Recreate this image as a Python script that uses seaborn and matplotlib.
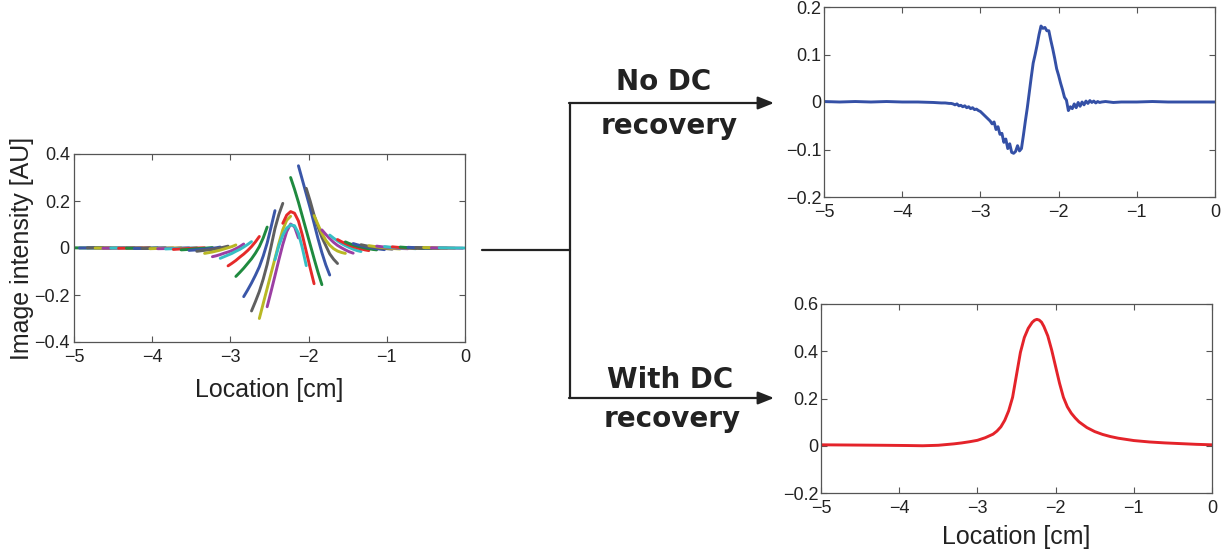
import numpy as np
import seaborn as sns
import matplotlib
matplotlib.use("Agg")
import matplotlib.pyplot as plt
from matplotlib.lines import Line2D
from matplotlib.patches import FancyArrowPatch
from matplotlib.ticker import FuncFormatter

# ---------------------------------------------------------------- data
X_TICKS = [-5, -4, -3, -2, -1, 0]
LEFT_Y_TICKS = [-0.4, -0.2, 0.0, 0.2, 0.4]
TOP_Y_TICKS = [-0.2, -0.1, 0.0, 0.1, 0.2]
BOTTOM_Y_TICKS = [-0.2, 0.0, 0.2, 0.4, 0.6]

# Windowed reconstructions: each window is 0.4 cm long, one window every 0.1 cm
WINDOW_STARTS = np.round(np.arange(48) * 0.1 - 5.03, 2)
WINDOW_LENGTH = 0.4
WINDOW_VALUES = [
    [0.001, 0.000, 0.001],
    [0.000, 0.001, 0.000],
    [0.001, 0.000, 0.000],
    [0.000, 0.000, 0.001],
    [-0.001, 0.000, 0.001],
    [0.000, 0.001, 0.000],
    [-0.001, 0.000, 0.001],
    [-0.001, -0.001, 0.000],
    [-0.002, -0.001, 0.001],
    [-0.002, -0.001, 0.000],
    [-0.003, -0.001, 0.001],
    [-0.003, -0.002, 0.001],
    [-0.004, -0.003, -0.001, 0.000, 0.001],
    [-0.006, -0.004, -0.002, 0.000, 0.001],
    [-0.008, -0.006, -0.003, -0.001, 0.002],
    [-0.010, -0.009, -0.008, -0.006, -0.005, -0.003, -0.001, 0.001, 0.004],
    [-0.014, -0.012, -0.010, -0.008, -0.006, -0.003, 0.000, 0.004, 0.008],
    [-0.023, -0.020, -0.017, -0.013, -0.009, -0.004, 0.001, 0.006, 0.013],
    [-0.037, -0.033, -0.028, -0.022, -0.017, -0.011, -0.003, 0.006, 0.017],
    [-0.044, -0.037, -0.030, -0.023, -0.014, -0.006, 0.004, 0.015, 0.027],
    [-0.076, -0.065, -0.053, -0.039, -0.026, -0.011, 0.006, 0.026, 0.049],
    [-0.121, -0.104, -0.086, -0.066, -0.046, -0.022, 0.006, 0.043, 0.089],
    [-0.207, -0.179, -0.149, -0.116, -0.080, -0.034, 0.021, 0.089, 0.159],
    [-0.268, -0.228, -0.185, -0.132, -0.070, 0.006, 0.083, 0.143, 0.190],
    [-0.300, -0.236, -0.172, -0.108, -0.045, 0.020, 0.078, 0.118, 0.135],
    [-0.250, -0.185, -0.118, -0.050, 0.015, 0.070, 0.102, 0.090, 0.043],
    [-0.050, 0.010, 0.055, 0.085, 0.098, 0.095, 0.063, 0.000, -0.075],
    [0.105, 0.140, 0.155, 0.148, 0.115, 0.055, -0.015, -0.085, -0.152],
    [0.300, 0.250, 0.195, 0.135, 0.075, 0.015, -0.045, -0.103, -0.156],
    [0.350, 0.290, 0.230, 0.170, 0.105, 0.040, -0.020, -0.072, -0.115],
    [0.254, 0.200, 0.140, 0.090, 0.045, 0.010, -0.025, -0.048, -0.066],
    [0.138, 0.100, 0.062, 0.033, 0.012, -0.003, -0.013, -0.019, -0.023],
    [0.077, 0.058, 0.040, 0.024, 0.011, 0.001, -0.008, -0.016, -0.022],
    [0.055, 0.042, 0.030, 0.019, 0.010, 0.002, -0.005, -0.011, -0.015],
    [0.036, 0.027, 0.019, 0.012, 0.006, 0.001, -0.004, -0.008, -0.011],
    [0.026, 0.019, 0.013, 0.008, 0.004, 0.000, -0.003, -0.006, -0.008],
    [0.019, 0.014, 0.010, 0.006, 0.003, 0.000, -0.003, -0.005, -0.007],
    [0.014, 0.007, 0.002, -0.002, -0.005],
    [0.010, 0.005, 0.001, -0.002, -0.004],
    [0.008, 0.004, 0.001, -0.002, -0.003],
    [0.006, 0.003, 0.000, -0.001, -0.003],
    [0.005, 0.002, 0.000, -0.001, -0.002],
    [0.004, 0.001, -0.001, -0.002],
    [0.003, 0.001, -0.001, -0.002],
    [0.002, 0.001, -0.001, -0.001],
    [0.002, 0.000, -0.001],
    [0.001, 0.000, -0.001],
    [0.001, 0.000, 0.000],
]

# Profile without DC recovery (noisy bipolar trace)
NODC_X_LEFT = [-5.0, -4.8, -4.6, -4.4, -4.2, -4.0, -3.8, -3.6, -3.5, -3.45, -3.4, -3.375]
NODC_Y_LEFT = [0.001, 0.000, 0.001, 0.000, 0.001, 0.000, 0.000, -0.001, -0.002, -0.002, -0.003, -0.003]
NODC_X_MID = np.round(np.linspace(-3.35, -1.45, 77), 3)
NODC_Y_MID = [
    -0.004, -0.006, -0.004, -0.008, -0.007, -0.010, -0.008, -0.012, -0.010, -0.014,
    -0.012, -0.016, -0.015, -0.018, -0.020, -0.024, -0.028, -0.032, -0.036, -0.040,
    -0.046, -0.042, -0.058, -0.052, -0.068, -0.066, -0.085, -0.078, -0.098, -0.088,
    -0.106, -0.108, -0.104, -0.092, -0.103, -0.098, -0.070, -0.040, -0.012, 0.020,
    0.052, 0.082, 0.100, 0.120, 0.142, 0.160, 0.155, 0.157, 0.150, 0.150,
    0.130, 0.112, 0.092, 0.070, 0.056, 0.040, 0.026, 0.010, 0.004, -0.018,
    -0.010, -0.014, -0.004, -0.012, -0.001, -0.009, 0.000, -0.006, 0.002, -0.003,
    0.003, -0.001, 0.002, -0.002, 0.001, -0.001, 0.000,
]
NODC_X_RIGHT = [-1.4, -1.3, -1.2, -1.0, -0.8, -0.6, -0.4, -0.2, 0.0]
NODC_Y_RIGHT = [0.001, -0.001, 0.000, 0.000, 0.001, 0.000, 0.000, 0.000, 0.000]

# Profile with DC recovery
DC_X = [-5.0, -4.6, -4.2, -3.9, -3.7, -3.5, -3.3, -3.2, -3.1, -3.0, -2.9, -2.8,
        -2.75, -2.7, -2.65, -2.6, -2.55, -2.5, -2.45, -2.4, -2.35, -2.3, -2.27,
        -2.24, -2.21, -2.18, -2.15, -2.1, -2.05, -2.0, -1.95, -1.9, -1.85, -1.8,
        -1.75, -1.7, -1.6, -1.5, -1.4, -1.3, -1.2, -1.0, -0.8, -0.6, -0.4, -0.2, 0.0]
DC_Y = [0.004, 0.003, 0.002, 0.001, 0.000, 0.002, 0.008, 0.012, 0.017, 0.023, 0.034, 0.049,
        0.062, 0.080, 0.108, 0.148, 0.205, 0.300, 0.395, 0.458, 0.497, 0.522, 0.531,
        0.535, 0.532, 0.523, 0.505, 0.465, 0.405, 0.335, 0.265, 0.205, 0.165, 0.138,
        0.118, 0.101, 0.077, 0.060, 0.048, 0.039, 0.032, 0.022, 0.016, 0.012, 0.009, 0.006, 0.004]

# ---------------------------------------------------------------- styling
W, H = 1228, 554
CYCLE = ["#36bfc4", "#e52a2a", "#1f8a3f", "#3a56a8", "#5f5f5f", "#b9b824", "#9b3fa3"]
NODC_COLOR = "#3450a6"
DC_COLOR = "#e4232a"
FRAME = "#555555"
TEXT = "#222222"

sns.set_theme(style="white")
plt.rcParams["font.family"] = ["Liberation Sans", "DejaVu Sans"]
plt.rcParams["axes.unicode_minus"] = True


def px_box(x0, y0, x1, y1):
    return [x0 / W, 1 - y1 / H, (x1 - x0) / W, (y1 - y0) / H]


def fmt(v, _pos):
    s = f"{v:g}"
    return s.replace("-", "\u2212")


def style_axes(ax, yticks, ypad):
    ax.set_xlim(-5, 0)
    ax.set_ylim(yticks[0], yticks[-1])
    ax.set_xticks(X_TICKS)
    ax.set_yticks(yticks)
    ax.xaxis.set_major_formatter(FuncFormatter(fmt))
    ax.yaxis.set_major_formatter(FuncFormatter(fmt))
    ax.tick_params(axis="both", direction="in", length=4, width=0.8, color=FRAME,
                   bottom=True, top=True, left=True, right=True,
                   labelsize=13, labelcolor=TEXT)
    ax.tick_params(axis="x", pad=5)
    ax.tick_params(axis="y", pad=ypad)
    for sp in ax.spines.values():
        sp.set_visible(True)
        sp.set_color(FRAME)
        sp.set_linewidth(0.9)
    ax.set_facecolor("white")


fig = plt.figure(figsize=(W / 100, H / 100), dpi=100)
fig.patch.set_facecolor("white")

# Left: windowed reconstructions
ax_l = fig.add_axes(px_box(74, 154, 465, 342))
for k, (start, vals) in enumerate(zip(WINDOW_STARTS, WINDOW_VALUES)):
    xs = np.linspace(start, start + WINDOW_LENGTH, len(vals))
    sns.lineplot(x=xs, y=vals, ax=ax_l, color=CYCLE[(k + 2) % 7], lw=2.1,
                 sort=False, estimator=None, legend=False)
style_axes(ax_l, LEFT_Y_TICKS, ypad=3)
ax_l.set_xlabel("Location [cm]", fontsize=18, color=TEXT, labelpad=9)
ax_l.set_ylabel("Image intensity [AU]", fontsize=18, color=TEXT, labelpad=0)

# Top right: no DC recovery
ax_t = fig.add_axes(px_box(824, 7, 1215, 197))
nodc_x = np.concatenate([NODC_X_LEFT, NODC_X_MID, NODC_X_RIGHT])
nodc_y = np.concatenate([NODC_Y_LEFT, NODC_Y_MID, NODC_Y_RIGHT])
sns.lineplot(x=nodc_x, y=nodc_y, ax=ax_t, color=NODC_COLOR, lw=2.1,
             sort=False, estimator=None, legend=False)
style_axes(ax_t, TOP_Y_TICKS, ypad=2)
ax_t.set_xlabel("")
ax_t.set_ylabel("")

# Bottom right: with DC recovery
ax_b = fig.add_axes(px_box(821, 304, 1212, 493))
sns.lineplot(x=DC_X, y=DC_Y, ax=ax_b, color=DC_COLOR, lw=2.1,
             sort=False, estimator=None, legend=False)
style_axes(ax_b, BOTTOM_Y_TICKS, ypad=2)
ax_b.set_xlabel("Location [cm]", fontsize=18, color=TEXT, labelpad=6)
ax_b.set_ylabel("")


# Branching connector between the panels
def fp(x, y):
    return (x / W, 1 - y / H)


conn_kw = dict(color=TEXT, lw=1.6, transform=fig.transFigure)
for (xa, ya), (xb, yb) in [((482, 250), (570, 250)), ((570, 103), (570, 398))]:
    fig.add_artist(Line2D([fp(xa, ya)[0], fp(xb, yb)[0]],
                          [fp(xa, ya)[1], fp(xb, yb)[1]], **conn_kw))
for y in (103, 398):
    fig.add_artist(FancyArrowPatch(fp(569, y), fp(774, y), transform=fig.transFigure,
                                   arrowstyle="-|>,head_length=0.8,head_width=0.32",
                                   mutation_scale=12, color=TEXT, lw=1.6,
                                   shrinkA=0, shrinkB=0))

branch_kw = dict(fontsize=20, fontweight="bold", color=TEXT, ha="center",
                 va="baseline", family=["DejaVu Sans"])
fig.text(*fp(664, 90), "No DC", **branch_kw)
fig.text(*fp(669, 134), "recovery", **branch_kw)
fig.text(*fp(670, 388), "With DC", **branch_kw)
fig.text(*fp(672, 427), "recovery", **branch_kw)

fig.savefig("out.png", dpi=100, facecolor="white")
